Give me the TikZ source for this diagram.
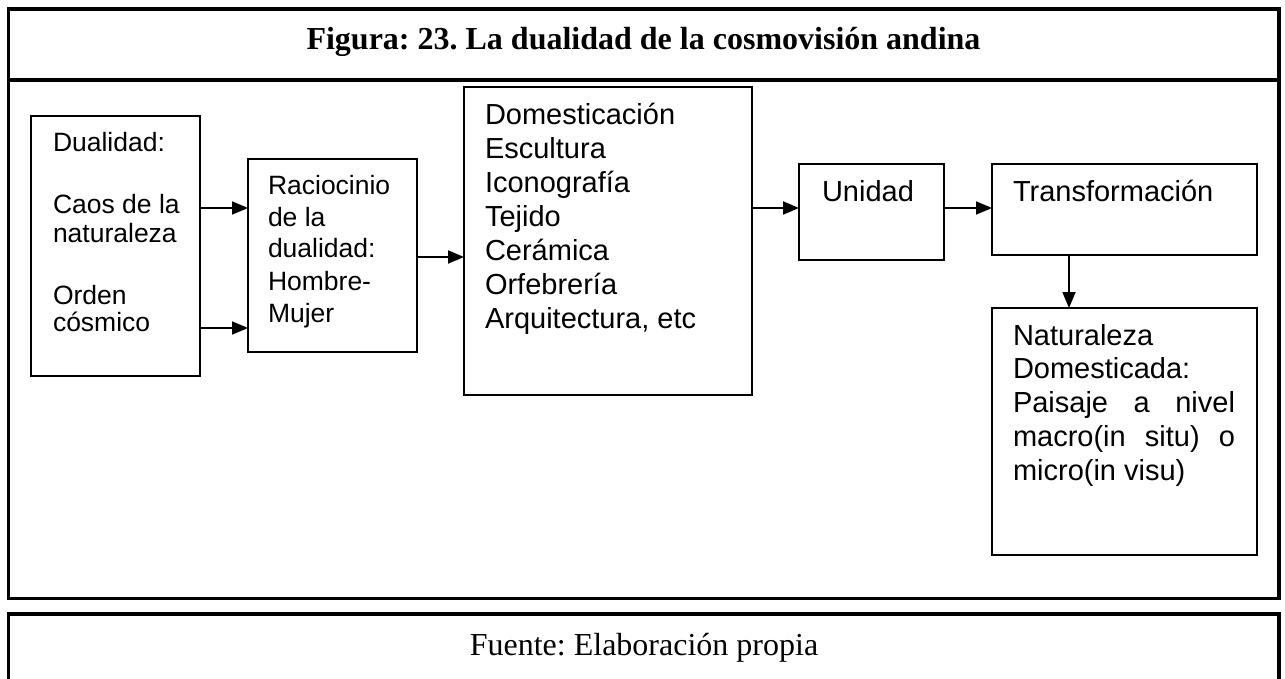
\documentclass[tikz,border=0pt]{standalone}
\usepackage{fontspec}
\setmainfont{Liberation Serif}
\newfontfamily\arialf{Liberation Sans}
\usetikzlibrary{arrows.meta}
\frenchspacing
\tikzset{
  frame/.style={draw=black, line width=3.3pt},
  box/.style={draw=black, line width=1.8pt, inner sep=0pt, outer sep=0pt, rectangle},
  arr/.style={line width=1.8pt, -{Triangle[length=16pt,width=13pt]}},
  txt/.style={anchor=base west, inner sep=0pt, outer sep=0pt, font=\arialf\fontsize{29}{34}\selectfont},
  txs/.style={txt, font=\arialf\fontsize{26.5}{31}\selectfont},
  ttl/.style={anchor=base, inner sep=0pt, font=\bfseries\fontsize{32}{36}\selectfont},
  src/.style={anchor=base, inner sep=0pt, font=\fontsize{32}{36}\selectfont}
}
\begin{document}
\begin{tikzpicture}[x=1pt, y=-1pt]
\useasboundingbox[fill=white] (0,0) rectangle (1285,679);
% frames
\draw[frame] (8.3,9) rectangle (1279,598.3);
\draw[frame] (8.3,80) -- (1279,80);
\draw[frame] (8.3,690) -- (8.3,614) -- (1279,614) -- (1279,690);
\node[ttl] (title) at (643.5,50) {Figura: 23. La dualidad de la cosmovisión andina};
\node[src] (fuente) at (644,655) {Fuente: Elaboración propia};
% boxes
\node[box, minimum width=169pt, minimum height=260pt] (b1) at (115.5,246) {};
\node[box, minimum width=169pt, minimum height=193pt] (b2) at (332.5,255.5) {};
\node[box, minimum width=288pt, minimum height=308pt] (b3) at (608,241) {};
\node[box, minimum width=145pt, minimum height=96pt] (b4) at (871.5,212) {};
\node[box, minimum width=265pt, minimum height=91pt] (b5) at (1124.5,209.5) {};
\node[box, minimum width=265pt, minimum height=247pt] (b6) at (1124.5,431.5) {};
% texts box 1
\node[txs] (t11) at (53,152) {Dualidad:};
\node[txs] (t12) at (53,214) {Caos de la};
\node[txs] (t13) at (53,243) {naturaleza};
\node[txs] (t14) at (53,304) {Orden};
\node[txs] (t15) at (53,331) {cósmico};
% box 2
\node[txs] (t21) at (268,195) {Raciocinio};
\node[txs] (t22) at (268,226) {de la};
\node[txs] (t23) at (268,258) {dualidad:};
\node[txs] (t24) at (268,290) {Hombre-};
\node[txs] (t25) at (268,322) {Mujer};
% box 3
\node[txt] (t31) at (485,125) {Domesticación};
\node[txt] (t32) at (485,158.8) {Escultura};
\node[txt] (t33) at (485,192.7) {Iconografía};
\node[txt] (t34) at (485,226.5) {Tejido};
\node[txt] (t35) at (485,260.3) {Cerámica};
\node[txt] (t36) at (485,294.2) {Orfebrería};
\node[txt] (t37) at (485,328) {Arquitectura, etc};
% box 4, 5
\node[txt] (t41) at (822,202) {Unidad};
\node[txt] (t51) at (1013,202) {Transformación};
% box 6
\node[txt] (t61) at (1013,345) {Naturaleza};
\node[txt] (t62) at (1013,378.8) {Domesticada:};
\node[txt] (t63) at (1013,412.6) {\makebox[222pt][s]{Paisaje\hfill a\hfill nivel}};
\node[txt] (t64) at (1013,446.4) {\makebox[222pt][s]{macro(in\hfill situ)\hfill o}};
\node[txt] (t65) at (1013,480) {micro(in visu)};
% connectors
\coordinate (ya) at (0,208);
\coordinate (yb) at (0,328);
\coordinate (yc) at (0,257);
\coordinate (xd) at (1069,0);
\draw[arr] (b1.east |- ya) -- (b2.west |- ya);
\draw[arr] (b1.east |- yb) -- (b2.west |- yb);
\draw[arr] (b2.east |- yc) -- (b3.west |- yc);
\draw[arr] (b3.east |- ya) -- (b4.west |- ya);
\draw[arr] (b4.east |- ya) -- (b5.west |- ya);
\draw[arr] (b5.south -| xd) -- (b6.north -| xd);
\end{tikzpicture}
\end{document}
